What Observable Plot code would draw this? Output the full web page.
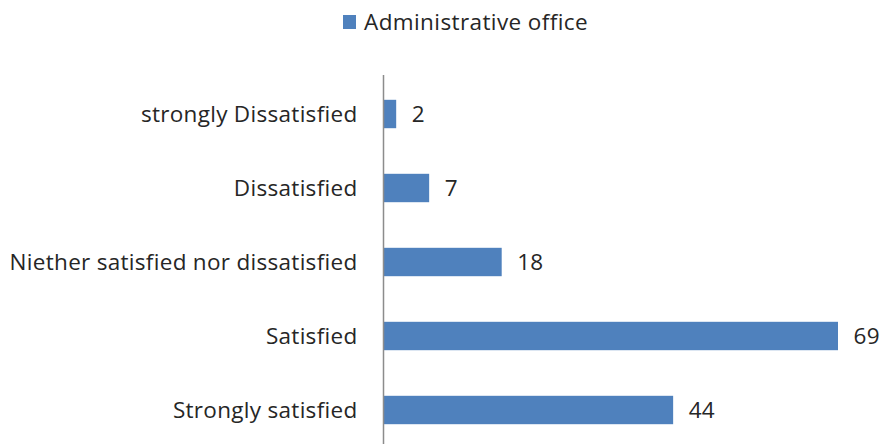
<!DOCTYPE html>
<html>
<head>
<meta charset="utf-8">
<script src="https://cdn.jsdelivr.net/npm/d3@7"></script>
<script src="https://cdn.jsdelivr.net/npm/@observablehq/plot@0.6"></script>
<style>
  html, body { margin: 0; padding: 0; background: #fff; overflow: hidden; }
  body { width: 884px; height: 444px; font-family: "Open Sans", sans-serif; color: #262626; font-variant-ligatures: none; }
  #legend { height: 45px; position: relative; }
  #legend .sw { position: absolute; left: 343px; top: 15px; width: 13px; height: 14px; background: #4F81BD; }
  #legend .lbl { position: absolute; left: 364px; top: 8px; font-size: 22.5px; line-height: 28px; letter-spacing: 0.4px; white-space: nowrap; }
  svg { display: block; overflow: visible; font-variant-ligatures: none; letter-spacing: 0.3px; }
</style>
</head>
<body>
<div id="legend"><span class="sw"></span><span class="lbl">Administrative office</span></div>
<div id="chart"></div>
<script>
const seriesName = "Administrative office";
const categories = ["strongly Dissatisfied", "Dissatisfied", "Niether satisfied nor dissatisfied", "Satisfied", "Strongly satisfied"];
const values = [2, 7, 18, 69, 44];

const data = categories.map((c, i) => ({category: c, value: values[i]}));

const plot = Plot.plot({
  width: 884,
  height: 403,
  marginTop: 30,
  marginBottom: 0,
  marginLeft: 383,
  marginRight: 46,
  style: {fontFamily: "'Open Sans', sans-serif", fontSize: "22.5px", color: "#262626", background: "transparent"},
  x: {domain: [0, 69], axis: null},
  y: {domain: categories, type: "band", paddingInner: 0, paddingOuter: 0, label: null},
  marks: [
    Plot.barX(data, {x: "value", y: "category", fill: "#4F81BD", insetTop: 22.8, insetBottom: 22.8}),
    Plot.text(data, {x: "value", y: "category", text: d => String(d.value), textAnchor: "start", dx: 15, fill: "#262626", fontSize: 22.5}),
    Plot.axisY({tickSize: 0, tickPadding: 26, fontSize: 22.5, fill: "#262626", label: null}),
    Plot.ruleX([0], {stroke: "#8c8c8c", strokeWidth: 1.5})
  ]
});
document.getElementById("chart").appendChild(plot);
</script>
</body>
</html>
